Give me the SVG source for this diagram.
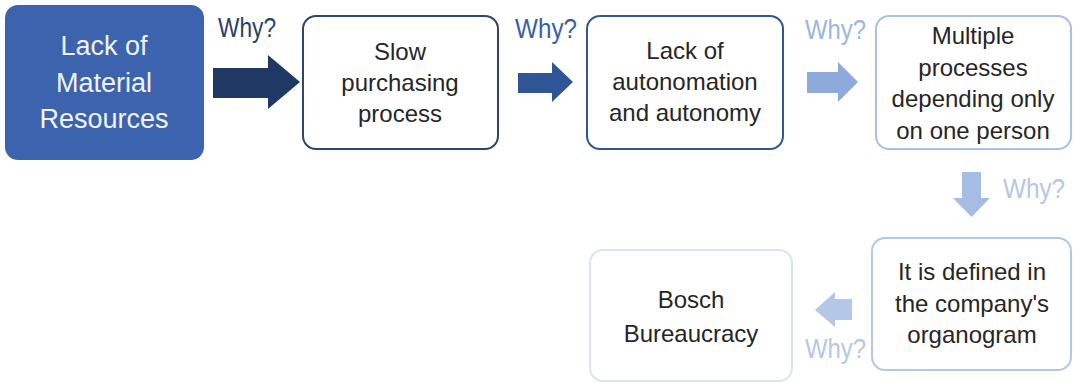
<svg xmlns="http://www.w3.org/2000/svg" width="1073" height="383" viewBox="0 0 1073 383">
<style>
.t{font-family:"Liberation Sans",Arial,sans-serif;font-size:24px;fill:#262626;text-anchor:middle}
.w{font-family:"Liberation Sans",Arial,sans-serif;font-size:28px}
.b{fill:#ffffff;stroke-width:2}
</style>
<rect width="1073" height="383" fill="#ffffff"/>
<g id="n1">
<rect x="5" y="5" width="199" height="155" rx="13" fill="#3c63ae"/>
<text class="t" x="104" y="55" style="font-size:27px;fill:#f2f2f2">Lack of</text>
<text class="t" x="104" y="92" style="font-size:27px;fill:#f2f2f2">Material</text>
<text class="t" x="104" y="128" style="font-size:27px;fill:#f2f2f2">Resources</text>
</g>
<g id="n2">
<rect class="b" x="303" y="16" width="195" height="133" rx="13" stroke="#2f4470"/>
<text class="t" x="400" y="60">Slow</text>
<text class="t" x="400" y="91">purchasing</text>
<text class="t" x="400" y="122">process</text>
</g>
<g id="n3">
<rect class="b" x="587" y="16" width="196" height="133" rx="13" stroke="#2f5597"/>
<text class="t" x="685" y="59">Lack of</text>
<text class="t" x="685" y="90">autonomation</text>
<text class="t" x="685" y="121">and autonomy</text>
</g>
<g id="n4">
<rect class="b" x="876" y="16" width="195" height="133" rx="13" stroke="#a9c0e5"/>
<text class="t" x="973" y="44">Multiple</text>
<text class="t" x="973" y="76">processes</text>
<text class="t" x="973" y="107">depending only</text>
<text class="t" x="973" y="139">on one person</text>
</g>
<g id="n5">
<rect class="b" x="872" y="238" width="199" height="132" rx="13" stroke="#b4c7e7"/>
<text class="t" x="972" y="280">It is defined in</text>
<text class="t" x="972" y="312">the company's</text>
<text class="t" x="972" y="343">organogram</text>
</g>
<g id="n6">
<rect class="b" x="590" y="250" width="202" height="131" rx="13" stroke="#dae3f3"/>
<text class="t" x="691" y="308">Bosch</text>
<text class="t" x="691" y="342">Bureaucracy</text>
</g>
<g id="connectors">
<polygon points="213,68 268,68 268,55 300,82 268,109 268,98 213,98" fill="#203864"/>
<text class="w" x="218" y="37" fill="#2a3f6a" textLength="58" lengthAdjust="spacingAndGlyphs">Why?</text>
<polygon points="518,73 552,73 552,62 573,82 552,102 552,93 518,93" fill="#2f5597"/>
<text class="w" x="515" y="38" fill="#3a5f9e" textLength="62" lengthAdjust="spacingAndGlyphs">Why?</text>
<polygon points="807,72 838,72 838,62 858,82 838,102 838,93 807,93" fill="#8eaadb"/>
<text class="w" x="805" y="39" fill="#9db5de" textLength="61" lengthAdjust="spacingAndGlyphs">Why?</text>
<polygon points="962,172 981,172 981,198 990,198 971.5,217 953,198 962,198" fill="#a5bde3"/>
<text class="w" x="1003" y="198" fill="#b4c7e7" textLength="62" lengthAdjust="spacingAndGlyphs">Why?</text>
<polygon points="852,299 852,320 835,320 835,327 815,310 835,292 835,299" fill="#b4c7e7"/>
<text class="w" x="805" y="358" fill="#b4c7e7" textLength="61" lengthAdjust="spacingAndGlyphs">Why?</text>
</g>
</svg>
